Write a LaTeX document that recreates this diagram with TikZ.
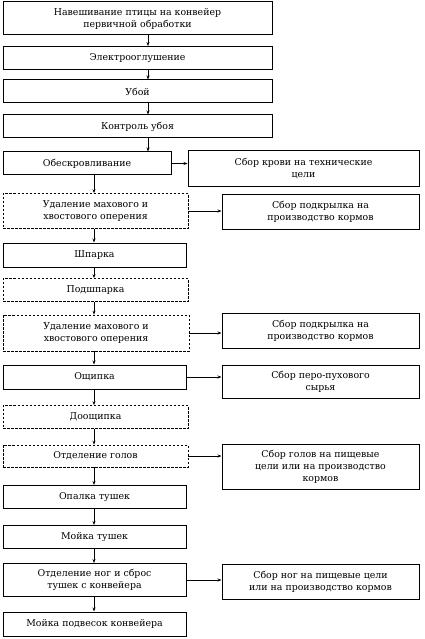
\documentclass[tikz,border=0pt]{standalone}
\usepackage{fontspec}
\setmainfont{DejaVu Serif}
\usetikzlibrary{arrows.meta}
\begin{document}
\begin{tikzpicture}[x=1pt,y=-1pt,
  box/.style={draw, line width=1pt, inner sep=0pt, align=center,
    font=\fontsize{9.4}{12}\selectfont},
  dbox/.style={box, line width=0.7pt, dash pattern=on 2.5pt off 1.5pt},
  arr/.style={-{Stealth[length=4pt,width=3pt]}, line width=0.8pt}]
\useasboundingbox (0,0) rectangle (424,639);
\coordinate (ta) at (148,0);
\coordinate (tb) at (94,0);
% main column
\node[box, minimum width=269pt, minimum height=33pt] (n1) at (137.5,18.5) {Навешивание птицы на конвейер\\первичной обработки};
\node[box, minimum width=269pt, minimum height=23pt] (n2) at (137.5,58) {Электрооглушение};
\node[box, minimum width=269pt, minimum height=23pt] (n3) at (137.5,91.5) {Убой};
\node[box, minimum width=269pt, minimum height=23pt] (n4) at (137.5,126.5) {Контроль убоя};
\node[box, minimum width=168pt, minimum height=23pt] (n5) at (87,163.5) {Обескровливание};
\node[dbox, minimum width=185pt, minimum height=35pt] (n6) at (95.5,211) {Удаление махового и\\хвостового оперения};
\node[box, minimum width=183pt, minimum height=24pt] (n7) at (94.5,255) {Шпарка};
\node[dbox, minimum width=185pt, minimum height=23pt] (n8) at (95.5,290) {Подшпарка};
\node[dbox, minimum width=186pt, minimum height=36pt] (n9) at (96,333) {Удаление махового и\\хвостового оперения};
\node[box, minimum width=183pt, minimum height=24pt] (n10) at (94.5,377) {Ощипка};
\node[dbox, minimum width=185pt, minimum height=23pt] (n11) at (95.5,417) {Доощипка};
\node[dbox, minimum width=185pt, minimum height=22pt] (n12) at (95.5,456) {Отделение голов};
\node[box, minimum width=183pt, minimum height=23pt] (n13) at (94.5,497) {Опалка тушек};
\node[box, minimum width=183pt, minimum height=23pt] (n14) at (94.5,537) {Мойка тушек};
\node[box, minimum width=183pt, minimum height=33pt] (n15) at (94.5,580) {Отделение ног и сброс\\тушек с конвейера};
\node[box, minimum width=183pt, minimum height=24pt] (n16) at (94.5,624) {Мойка подвесок конвейера};
% side column
\node[box, minimum width=231pt, minimum height=35pt] (r5) at (303.5,168.5) {Сбор крови на технические\\цели};
\node[box, minimum width=197pt, minimum height=35pt] (r6) at (320.5,212) {Сбор подкрылка на\\производство кормов};
\node[box, minimum width=197pt, minimum height=35pt] (r9) at (320.5,331) {Сбор подкрылка на\\производство кормов};
\node[box, minimum width=197pt, minimum height=33pt] (r10) at (320.5,382) {Сбор перо-пухового\\сырья};
\node[box, minimum width=197pt, minimum height=45pt] (r12) at (320.5,467) {Сбор голов на пищевые\\цели или на производство\\кормов};
\node[box, minimum width=197pt, minimum height=35pt] (r15) at (320.5,582) {Сбор ног на пищевые цели\\или на производство кормов};
% vertical flow
\foreach \a/\b in {n1/n2,n2/n3,n3/n4,n4/n5}
  \draw[arr] (\a.south -| ta) -- (\b.north -| ta);
\foreach \a/\b in {n5/n6,n6/n7,n7/n8,n8/n9,n9/n10,n10/n11,n11/n12,n12/n13,n13/n14,n14/n15,n15/n16}
  \draw[arr] (\a.south -| tb) -- (\b.north -| tb);
% side arrows
\foreach \a/\b in {n5/r5,n6/r6,n9/r9,n10/r10,n12/r12,n15/r15}
  \draw[arr] (\a.east) -- (\a.east -| \b.west);
\end{tikzpicture}
\end{document}
